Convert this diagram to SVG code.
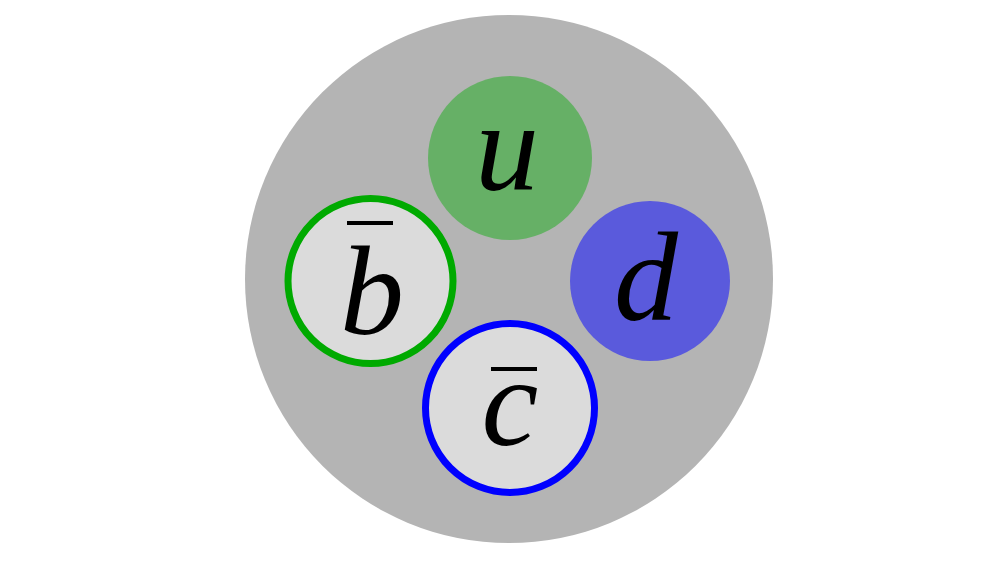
<svg xmlns="http://www.w3.org/2000/svg" width="1000" height="562" viewBox="0 0 1000 562">
<style>
.lbl{font-family:"Liberation Serif","DejaVu Serif",serif;font-style:italic;font-size:128px;fill:#000;text-anchor:middle}
.bar{stroke:#000;stroke-width:4}
.anti{fill:#dbdbdb;stroke-width:7}
</style>
<rect width="1000" height="562" fill="#fff"/>
<g id="hadron"><circle cx="509" cy="279" r="264" fill="#b4b4b4"/></g>
<g id="connectors"></g>
<g id="u"><circle cx="510" cy="158" r="82" fill="#66b066"/><text class="lbl" x="507" y="190">u</text></g>
<g id="d"><circle cx="650" cy="281" r="80" fill="#5a5adc"/><text class="lbl" x="646" y="320">d</text></g>
<g id="bbar"><circle class="anti" cx="370.5" cy="281" r="82.5" stroke="#00aa00"/><text class="lbl" x="372" y="334">b</text><line class="bar" x1="347" y1="223" x2="393" y2="223"/></g>
<g id="cbar"><circle class="anti" cx="510" cy="408" r="84.5" stroke="#0000ff"/><text class="lbl" x="510" y="445">c</text><line class="bar" x1="491" y1="369" x2="537" y2="369"/></g>
</svg>
